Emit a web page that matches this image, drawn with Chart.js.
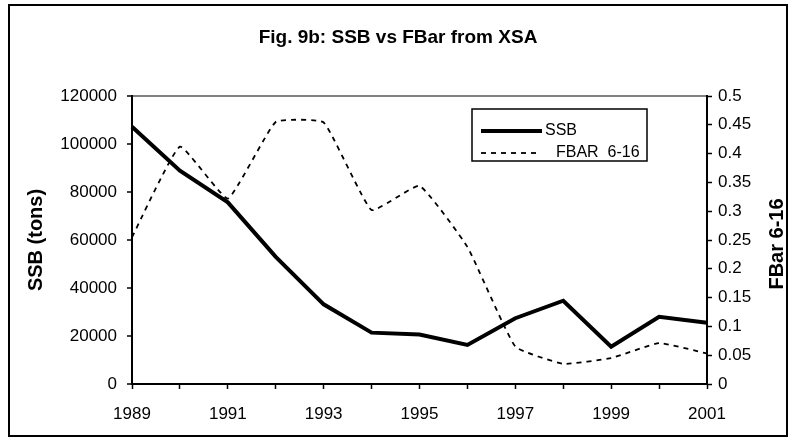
<!DOCTYPE html>
<html>
<head>
<meta charset="utf-8">
<script src="https://cdn.jsdelivr.net/npm/chart.js@4.4.1/dist/chart.umd.min.js"></script>
<style>
  body { margin: 0; background: #fff; }
  #chart { display: block; }
</style>
</head>
<body>
<canvas id="chart" width="796" height="441"></canvas>
<script>
// Data
const years = ['1989', '1990', '1991', '1992', '1993', '1994', '1995', '1996', '1997', '1998', '1999', '2000', '2001'];
const ssbValues = [107200, 88900, 75700, 53000, 33200, 21400, 20600, 16300, 27400, 34700, 15500, 28000, 25500];
const fbarValues = [0.255, 0.412, 0.322, 0.455, 0.454, 0.302, 0.344, 0.238, 0.065, 0.035, 0.045, 0.071, 0.053];
const ssbTicks = [0, 20000, 40000, 60000, 80000, 100000, 120000];
const fbarTicks = [0, 0.05, 0.1, 0.15, 0.2, 0.25, 0.3, 0.35, 0.4, 0.45, 0.5];

const FONT = 'Arial, "Liberation Sans", sans-serif';

// Draws frame, title, axis titles and legend box
const decorations = {
    id: 'decorations',
    afterDraw(chart) {
        const ctx = chart.ctx;
        ctx.save();

        // outer frame
        ctx.strokeStyle = '#000';
        ctx.lineWidth = 2;
        ctx.strokeRect(9, 5, 778, 431);

        // title
        ctx.fillStyle = '#000';
        ctx.font = 'bold 19px ' + FONT;
        ctx.textAlign = 'center';
        ctx.textBaseline = 'middle';
        ctx.fillText('Fig. 9b: SSB vs FBar from XSA', 398, 38);

        // axis titles (both read bottom to top)
        ctx.font = 'bold 20px ' + FONT;
        ctx.translate(36, 240);
        ctx.rotate(-Math.PI / 2);
        ctx.fillText('SSB (tons)', 0, 0);
        ctx.setTransform(1, 0, 0, 1, 0, 0);
        ctx.translate(777, 244);
        ctx.rotate(-Math.PI / 2);
        ctx.fillText('FBar 6-16', 0, 0);
        ctx.setTransform(1, 0, 0, 1, 0, 0);

        // legend
        ctx.fillStyle = '#fff';
        ctx.fillRect(472, 109, 175, 52);
        ctx.lineWidth = 1.5;
        ctx.strokeRect(472, 109, 175, 52);

        const ds = chart.data.datasets;
        ctx.strokeStyle = '#000';
        ctx.lineWidth = ds[0].borderWidth;
        ctx.setLineDash([]);
        ctx.beginPath();
        ctx.moveTo(481, 131);
        ctx.lineTo(542, 131);
        ctx.stroke();

        ctx.lineWidth = ds[1].borderWidth;
        ctx.setLineDash(ds[1].borderDash);
        ctx.beginPath();
        ctx.moveTo(481, 153);
        ctx.lineTo(541, 153);
        ctx.stroke();
        ctx.setLineDash([]);

        ctx.fillStyle = '#000';
        ctx.font = '16px ' + FONT;
        ctx.textAlign = 'left';
        ctx.fillText('SSB', 545, 131);
        ctx.fillText('FBAR  6-16', 556, 153);

        ctx.restore();
    }
};

const whiteBg = {
    id: 'whiteBg',
    beforeDraw(chart) {
        const ctx = chart.ctx;
        ctx.save();
        ctx.fillStyle = '#fff';
        ctx.fillRect(0, 0, chart.width, chart.height);
        ctx.restore();
    }
};

new Chart(document.getElementById('chart').getContext('2d'), {
    type: 'line',
    data: {
        labels: years,
        datasets: [
            {
                label: 'SSB',
                data: ssbValues,
                yAxisID: 'ySSB',
                borderColor: '#000',
                borderWidth: 4,
                pointRadius: 0,
                tension: 0,
                fill: false
            },
            {
                label: 'FBAR  6-16',
                data: fbarValues,
                yAxisID: 'yF',
                borderColor: '#000',
                borderWidth: 1.8,
                borderDash: [5, 5],
                pointRadius: 0,
                tension: 0.12,
                fill: false
            }
        ]
    },
    options: {
        responsive: false,
        devicePixelRatio: 1,
        animation: false,
        layout: { padding: { top: 96, left: 0, right: 0, bottom: 0 } },
        plugins: {
            legend: { display: false },
            title: { display: false },
            tooltip: { enabled: false }
        },
        scales: {
            x: {
                type: 'category',
                offset: false,
                afterFit: s => { s.height = 57; },
                border: { display: true, color: '#000', width: 2 },
                grid: {
                    drawOnChartArea: false,
                    drawTicks: true,
                    tickLength: 5,
                    tickColor: '#000',
                    tickWidth: 1.5
                },
                ticks: {
                    autoSkip: false,
                    maxRotation: 0,
                    padding: 15,
                    color: '#000',
                    font: { family: FONT, size: 17 },
                    callback: (v, i) => (i % 2 === 0 ? years[i] : '')
                }
            },
            ySSB: {
                position: 'left',
                min: 0,
                max: 120000,
                afterFit: s => { s.width = 132; },
                afterBuildTicks: s => { s.ticks = ssbTicks.map(v => ({ value: v })); },
                border: { display: true, color: '#000', width: 2 },
                grid: {
                    color: c => (c.tick && c.tick.value === 120000 ? '#808080' : 'rgba(0,0,0,0)'),
                    lineWidth: 2,
                    tickColor: '#000',
                    tickWidth: 1.5,
                    tickLength: 5
                },
                ticks: {
                    padding: 10,
                    color: '#000',
                    font: { family: FONT, size: 17 },
                    callback: v => String(v)
                }
            },
            yF: {
                position: 'right',
                min: 0,
                max: 0.5,
                afterFit: s => { s.width = 89; },
                afterBuildTicks: s => { s.ticks = fbarTicks.map(v => ({ value: v })); },
                border: { display: true, color: '#000', width: 2 },
                grid: {
                    drawOnChartArea: false,
                    tickColor: '#000',
                    tickWidth: 1.5,
                    tickLength: 5
                },
                ticks: {
                    padding: 6,
                    color: '#000',
                    font: { family: FONT, size: 17 },
                    callback: v => String(+v.toFixed(2))
                }
            }
        }
    },
    plugins: [whiteBg, decorations]
});
</script>
</body>
</html>
